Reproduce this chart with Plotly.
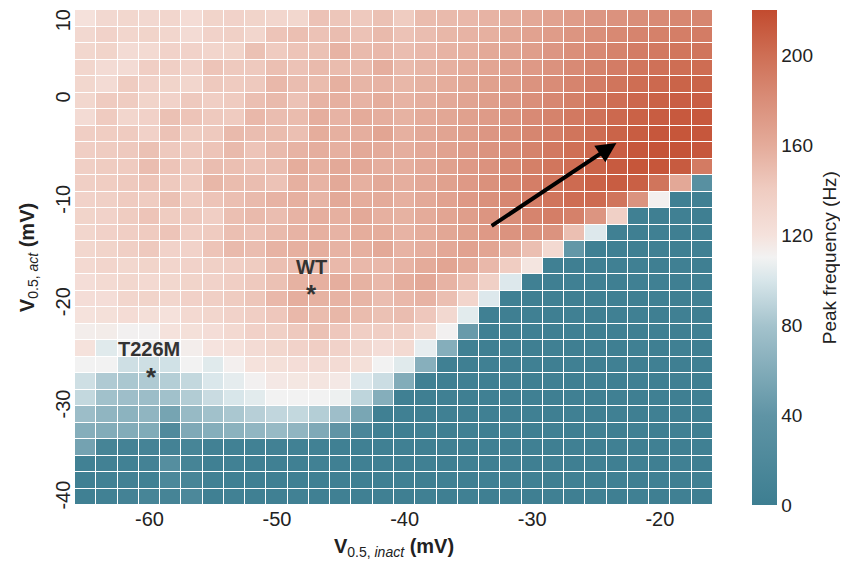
import numpy as np
import plotly.graph_objects as go

# ---- axes (cell centres, mV) ----
X_INACT = [round(-65 + i * 5 / 3, 3) for i in range(30)]          # V0.5,inact
Y_STEP = 1.612
Y_TOP_EDGE = 8.79
Y_ACT_TOP_DOWN = [round(Y_TOP_EDGE - (j + 0.5) * Y_STEP, 3) for j in range(30)]  # V0.5,act

X_TICK_VALS = [-60, -50, -40, -30, -20]
X_TICK_TEXT = ["-60", "-50", "-40", "-30", "-20"]
Y_TICK_VALS = [7.5, 0, -10, -20, -30, -38.9]
Y_TICK_TEXT = ["10", "0", "-10", "-20", "-30", "-40"]
CB_TICKS = [0, 40, 80, 120, 160, 200]

# ---- peak frequency (Hz), rows from top (high V_act) to bottom ----
R00 = [121,129,130,129,131,125,133,134,133,131,130,146,144,142,147,140,150,151,152,155,158,162,166,170,174,177,180,182,184,185]
R01 = [129,134,131,133,131,126,134,136,131,145,148,146,149,146,151,146,149,153,155,157,162,166,170,175,179,183,186,188,190,191]
R02 = [130,133,126,127,134,134,132,133,147,141,145,147,155,151,152,149,152,155,157,161,165,169,174,179,183,187,191,193,195,196]
R03 = [131,126,126,138,137,134,145,142,142,148,146,151,150,151,158,151,154,157,160,164,168,172,177,182,187,191,195,198,200,201]
R04 = [130,126,140,134,133,131,142,141,142,152,149,150,157,154,155,153,156,159,163,167,171,176,181,186,191,196,200,203,206,206]
R05 = [130,141,140,133,134,142,138,141,148,151,146,155,157,155,159,155,158,161,165,169,174,179,184,189,195,200,204,207,209,209]
R06 = [126,141,131,135,147,145,142,141,152,149,150,158,155,160,158,156,160,163,167,171,176,182,187,193,198,203,207,210,212,212]
R07 = [138,139,141,135,146,140,142,151,149,150,148,159,157,158,164,157,161,165,169,174,179,185,190,196,201,206,210,213,214,213]
R08 = [138,140,142,147,142,142,145,151,145,151,155,158,157,161,160,158,162,166,171,176,181,187,193,199,204,209,213,215,215,213]
R09 = [137,140,141,149,145,142,149,148,146,149,159,157,161,162,158,158,162,167,172,177,183,189,195,201,206,211,214,214,211,192]
R10 = [137,139,142,145,142,141,153,150,149,146,157,155,161,157,161,158,162,167,172,178,184,190,196,202,207,210,208,196,162,32]
R11 = [134,136,141,140,147,141,145,148,151,155,157,154,161,159,160,157,161,166,172,178,184,190,196,201,202,196,176,112,4,3]
R12 = [133,134,140,145,140,142,138,148,151,149,155,158,157,161,157,156,160,164,169,175,180,186,190,188,175,136,3,2,3,2]
R13 = [131,135,138,141,145,138,141,148,146,151,155,157,155,159,159,155,159,163,167,172,176,178,176,148,102,4,2,3,2,3]
R14 = [130,133,137,142,134,134,145,151,149,155,157,158,155,157,161,155,158,162,166,164,158,148,128,42,3,3,2,3,2,3]
R15 = [128,132,130,133,132,134,136,138,140,148,150,150,152,152,152,155,160,164,160,152,139,118,3,2,3,4,3,2,3,2]
R16 = [124,127,130,128,130,133,134,138,142,147,156,157,158,156,152,158,162,155,148,136,102,3,2,4,3,2,3,3,2,3]
R17 = [124,124,131,133,131,135,137,140,144,152,158,156,155,154,149,152,155,148,132,102,3,2,3,2,3,4,2,3,2,3]
R18 = [120,122,125,123,121,128,131,134,138,143,152,150,153,150,147,149,143,129,104,3,2,3,2,3,2,3,3,2,3,2]
R19 = [113,114,111,111,120,122,124,128,135,136,142,147,143,138,138,137,130,111,45,3,2,3,2,3,2,3,2,3,2,3]
R20 = [120,103,110,111,111,113,119,121,126,130,134,138,134,129,124,127,106,62,3,2,3,2,3,2,3,2,3,2,3,2]
R21 = [110,110,96,96,97,110,103,112,120,122,124,126,126,122,110,103,63,3,2,3,2,3,2,3,2,3,2,3,2,3]
R22 = [96,84,82,84,86,92,101,105,111,116,117,118,116,102,95,60,3,2,3,2,3,2,3,2,3,2,3,2,3,2]
R23 = [92,78,76,75,78,85,94,100,104,110,110,110,108,90,62,3,2,3,2,3,2,3,2,3,2,3,2,3,2,3]
R24 = [75,68,66,68,53,72,78,82,87,91,92,86,76,55,4,3,2,3,2,3,2,3,2,3,2,3,2,3,2,3]
R25 = [62,60,60,59,22,58,62,65,69,72,68,58,40,15,3,2,3,2,3,2,3,2,3,2,3,2,3,2,3,2]
R26 = [52,10,8,9,8,12,6,5,5,6,5,5,4,4,3,3,2,3,2,3,2,3,2,3,2,3,2,3,2,3]
R27 = [5,6,5,8,28,10,4,5,4,3,4,5,4,3,3,2,3,2,3,2,3,2,3,2,3,2,3,2,3,2]
R28 = [4,5,6,5,18,12,5,4,3,4,3,4,3,4,3,3,2,3,2,3,2,3,2,3,2,3,2,3,2,3]
R29 = [3,5,8,12,10,18,4,5,4,3,5,4,3,4,3,2,3,2,3,2,3,2,3,2,3,2,3,2,3,2]

ROWS_TOP_DOWN = [R00, R01, R02, R03, R04, R05, R06, R07, R08, R09,
                 R10, R11, R12, R13, R14, R15, R16, R17, R18, R19,
                 R20, R21, R22, R23, R24, R25, R26, R27, R28, R29]

# marker annotations (mV)
LABELS = [("WT", -47.3, -16.3), ("T226M", -60.0, -24.3)]
STARS = [(-47.3, -19.0), (-59.8, -27.1)]
ARROW_TAIL = (-33.3, -12.4)
ARROW_HEAD = (-23.4, -4.2)

Z = np.array(ROWS_TOP_DOWN[::-1], dtype=float)
Y = Y_ACT_TOP_DOWN[::-1]

colorscale = [
    [0.0, "#3d7e91"],
    [0.18, "#5f94a5"],
    [0.36, "#a3c2cc"],
    [0.455, "#d8e6ea"],
    [0.5, "#f2f2f2"],
    [0.545, "#f5e2dc"],
    [0.64, "#efcbc0"],
    [0.727, "#e4ab9a"],
    [0.82, "#d98d78"],
    [0.91, "#ce6e54"],
    [1.0, "#c24b2f"],
]

FONT = "Liberation Sans, Arial, sans-serif"

fig = go.Figure(go.Heatmap(
    x=X_INACT, y=Y, z=Z,
    zmin=0, zmax=220,
    colorscale=colorscale,
    xgap=1, ygap=1,
    colorbar=dict(
        thickness=25, len=1, lenmode="fraction", y=0.5, yanchor="middle",
        x=1.061, xanchor="left", xpad=0, ypad=0,
        outlinewidth=0, ticks="", tickvals=CB_TICKS,
        tickfont=dict(size=19, color="#222", family=FONT),
    ),
))

annotations = []
for txt, x, y in LABELS:
    annotations.append(dict(x=x, y=y, xref="x", yref="y", text=f"<b>{txt}</b>",
                            showarrow=False, font=dict(size=20, color="#333", family=FONT)))
for x, y in STARS:
    annotations.append(dict(x=x, y=y, xref="x", yref="y", text="<b>*</b>",
                            showarrow=False, font=dict(size=26, color="#333", family=FONT)))
annotations.append(dict(x=ARROW_HEAD[0], y=ARROW_HEAD[1], ax=ARROW_TAIL[0], ay=ARROW_TAIL[1],
                        xref="x", yref="y", axref="x", ayref="y", text="",
                        showarrow=True, arrowhead=2, arrowsize=1, arrowwidth=4,
                        arrowcolor="black"))
# colour-bar title
annotations.append(dict(x=1.183, y=0.5, xref="paper", yref="paper", text="Peak frequency (Hz)",
                        textangle=-90, showarrow=False, xanchor="center", yanchor="middle",
                        font=dict(size=19, color="#222", family=FONT)))

fig.update_layout(
    width=848, height=562,
    margin=dict(l=67, r=143, t=2, b=65, autoexpand=False),
    paper_bgcolor="white", plot_bgcolor="white",
    font=dict(family=FONT, color="#222"),
    annotations=annotations,
    xaxis=dict(range=[X_INACT[0] - 5 / 6, X_INACT[-1] + 5 / 6], tickvals=X_TICK_VALS,
               ticktext=X_TICK_TEXT,
               ticks="", showgrid=False, zeroline=False, showline=False, automargin=False,
               tickfont=dict(size=20, color="#222"), ticklabelstandoff=0,
               title=dict(text="<b>V</b><sub>0.5, <i>inact</i></sub> <b>(mV)</b>",
                          font=dict(size=20, color="#222"), standoff=9)),
    yaxis=dict(range=[Y_TOP_EDGE - 30 * Y_STEP, Y_TOP_EDGE], tickvals=Y_TICK_VALS,
               ticktext=Y_TICK_TEXT, tickangle=-90, automargin=False,
               ticks="", showgrid=False, zeroline=False, showline=False,
               tickfont=dict(size=20, color="#222"), ticklabelstandoff=0,
               title=dict(text="<b>V</b><sub>0.5, <i>act</i></sub> <b>(mV)</b>",
                          font=dict(size=20, color="#222"), standoff=12)),
)

fig.write_html("out.html")
